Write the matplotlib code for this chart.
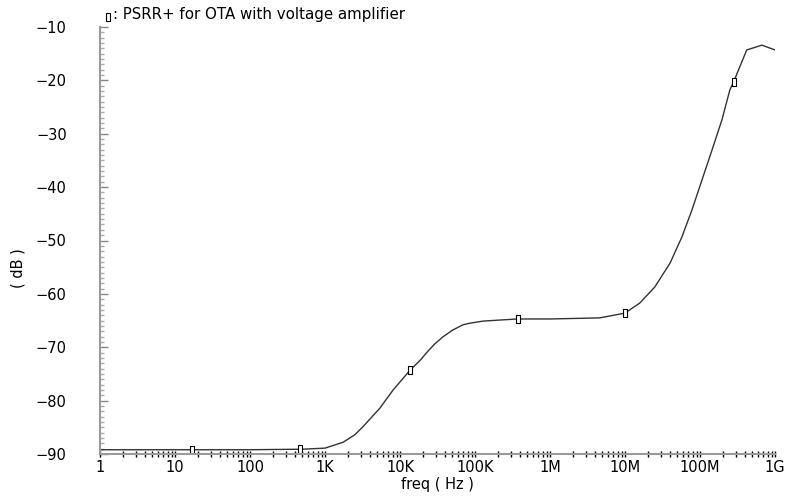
import numpy as np
import matplotlib
matplotlib.use("Agg")
import matplotlib.pyplot as plt
from matplotlib.ticker import FixedLocator, FixedFormatter, MultipleLocator, LogLocator, NullFormatter

# PSRR+ sweep, frequency in Hz and magnitude in dB
freq = [1, 10, 100, 500, 1e3, 1.74e3, 2.5e3, 3.2e3, 5.4e3, 8.1e3, 1.36e4, 1.9e4, 2.3e4,
        2.9e4, 3.7e4, 5e4, 6.9e4, 8.5e4, 1.28e5, 3.7e5, 1e6, 4.6e6, 1e7, 1.58e7, 2.5e7,
        4e7, 5.75e7, 7.8e7, 1.06e8, 1.45e8, 1.96e8, 2.5e8, 2.84e8, 4.2e8, 6.7e8, 1e9]
psrr = [-89.2, -89.2, -89.2, -89.1, -88.9, -87.8, -86.4, -84.9, -81.4, -78.0, -74.3, -72.3, -70.9,
        -69.4, -68.1, -66.8, -65.8, -65.5, -65.1, -64.7, -64.7, -64.5, -63.6, -61.7, -58.7,
        -54.2, -49.3, -44.3, -38.7, -33.0, -27.4, -21.8, -20.1, -14.3, -13.4, -14.3]

# marker frequencies along the trace
mark_freq = [17, 470, 1.35e4, 3.7e5, 1e7, 2.8e8]

xtick_vals = [1, 10, 100, 1e3, 1e4, 1e5, 1e6, 1e7, 1e8, 1e9]
xtick_text = ["1", "10", "100", "1K", "10K", "100K", "1M", "10M", "100M", "1G"]
ytick_vals = [-90, -80, -70, -60, -50, -40, -30, -20, -10]

box = [(-0.5, -1), (0.5, -1), (0.5, 1), (-0.5, 1), (-0.5, -1)]

plt.rcParams['font.family'] = ['DejaVu Sans']
fig = plt.figure(figsize=(7.87, 4.97), dpi=100)
ax = fig.add_axes([100/787, 1 - 454/497, 675/787, 427/497])

ax.plot(freq, psrr, color="#333333", lw=1)
mark_db = np.interp(np.log10(mark_freq), np.log10(freq), psrr)
ax.plot(mark_freq, mark_db, ls="none", marker=box, ms=6, mfc="white", mec="black", mew=0.8)

ax.set_xscale("log")
ax.set_xlim(1, 1e9)
ax.set_ylim(-90, -10)

ax.xaxis.set_major_locator(FixedLocator(xtick_vals))
ax.xaxis.set_major_formatter(FixedFormatter(xtick_text))
ax.xaxis.set_minor_locator(LogLocator(base=10, subs=np.arange(2, 10), numticks=20))
ax.xaxis.set_minor_formatter(NullFormatter())
ax.yaxis.set_major_locator(FixedLocator(ytick_vals))
ax.yaxis.set_minor_locator(MultipleLocator(1))

for s in ["top", "right"]:
    ax.spines[s].set_visible(False)
for s in ["left", "bottom"]:
    ax.spines[s].set_color("#9a9a9a")
    ax.spines[s].set_linewidth(1.5)

ax.tick_params(axis="x", which="both", direction="inout", length=5, width=1,
               color="black", labelsize=10.5, pad=2)
ax.tick_params(axis="y", which="major", direction="in", length=6, width=1,
               color="#888888", labelsize=10.5, pad=24)
ax.tick_params(axis="y", which="minor", direction="in", length=3, width=1,
               color="#aaaaaa")

fig.text(437/787, 1 - 485/497, "freq ( Hz )", ha="center", va="center", fontsize=10.5)
fig.text(18/787, 1 - 268/497, "( dB )", ha="center", va="center", rotation=90, fontsize=10.5)

# legend line above the plot
ax.plot([108/787], [1 - 17/497], transform=fig.transFigure, clip_on=False, ls="none",
        marker=box, ms=6, mfc="white", mec="black", mew=0.8)
fig.text(113/787, 1 - 15/497, ": PSRR+ for OTA with voltage amplifier",
         ha="left", va="center", fontsize=10.8)

fig.savefig("out.png", dpi=100)
